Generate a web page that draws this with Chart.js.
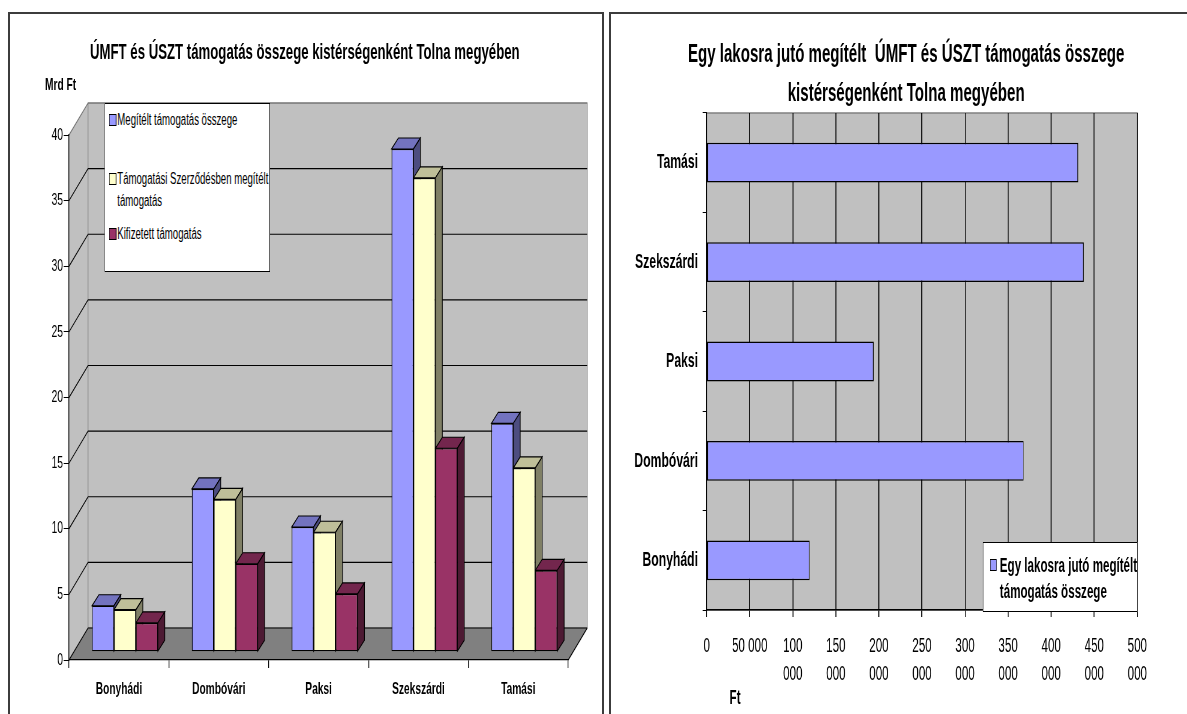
<!DOCTYPE html>
<html lang="hu">
<head>
<meta charset="utf-8">
<title>ÚMFT és ÚSZT támogatás – Tolna megye</title>
<script src="https://cdn.jsdelivr.net/npm/chart.js@4.4.1/dist/chart.umd.min.js"></script>
<style>
  html, body { margin: 0; padding: 0; background: #fff; overflow: hidden; }
  body { width: 1187px; height: 714px; position: relative; font-family: 'Liberation Sans', Arial, sans-serif; color: #000; }
  .frame { position: absolute; border: 0 solid #3c3c3c; }
  /* the original charts are squeezed horizontally, so each one is drawn wide and scaled down */
  .squeeze { position: absolute; top: 0; height: 714px; transform-origin: 0 0; }
  .squeeze canvas { position: absolute; left: 0; top: 0; }
  .txt { position: absolute; white-space: nowrap; }
  .legend { position: absolute; background: #fff; border: 1px solid #000; box-sizing: border-box; }
  .legend .sw { position: absolute; border: 1px solid #000; box-sizing: border-box; }
  .legend .lbl { position: absolute; white-space: nowrap; }
</style>
</head>
<body>
<div class="frame" style="left:8px;top:12px;width:592px;height:720px;border-width:2px 2px 0 2px"></div>
<div class="frame" style="left:609px;top:12px;width:600px;height:720px;border-width:2px 0 0 2px"></div>

<div class="squeeze" style="left:0;width:1007px;transform:scaleX(0.6)">
  <canvas id="leftChart" width="1007" height="714"></canvas>
  <div class="txt" style="left:508px;top:39px;transform:translateX(-50%);font:bold 22px/26px 'Liberation Sans',Arial,sans-serif">ÚMFT és ÚSZT támogatás összege kistérségenként Tolna megyében</div>
  <div class="txt" style="left:75px;top:75px;font:bold 17px/20px 'Liberation Sans',Arial,sans-serif">Mrd Ft</div>
  <div class="legend" id="leftLegend" style="left:174px;top:103px;width:276px;height:169px;font:16px/22px 'Liberation Sans',Arial,sans-serif"></div>
</div>

<div class="squeeze" style="left:604px;width:1005px;transform:scaleX(0.58)">
  <canvas id="rightChart" width="1005" height="714"></canvas>
  <div class="txt" style="left:521px;top:34px;transform:translateX(-50%);text-align:center;font:bold 26px/39px 'Liberation Sans',Arial,sans-serif">Egy lakosra jutó megítélt&nbsp; ÚMFT és ÚSZT támogatás összege<br>kistérségenként Tolna megyében</div>
  <div class="txt" style="left:226px;top:685px;transform:translateX(-50%);font:bold 20px/24px 'Liberation Sans',Arial,sans-serif">Ft</div>
  <div class="legend" id="rightLegend" style="left:653px;top:542px;width:267px;height:70px;font:bold 20px/26.7px 'Liberation Sans',Arial,sans-serif"></div>
</div>

<script>
// ---- adatok ----
const categories = ['Bonyhádi', 'Dombóvári', 'Paksi', 'Szekszárdi', 'Tamási'];

const seriesNames = ['Megítélt támogatás összege', 'Támogatási Szerződésben megítélt támogatás', 'Kifizetett támogatás'];
const seriesColors = ['#9999FF', '#FFFFCC', '#993366'];
const legendLines = [['Megítélt támogatás összege'], ['Támogatási Szerződésben megítélt', 'támogatás'], ['Kifizetett támogatás']];

const megiteltTamogatas = [3.5, 12.4, 9.5, 38.3, 17.4];     // Mrd Ft
const szerzodesTamogatas = [3.2, 11.6, 9.1, 36.1, 14.0];
const kifizetettTamogatas = [2.2, 6.7, 4.4, 15.5, 6.2];
const leftAxisMin = 0, leftAxisMax = 40, leftAxisStep = 5;

const perCapitaName = 'Egy lakosra jutó megítélt támogatás összege';
const perCapitaLines = ['Egy lakosra jutó megítélt', 'támogatás összege'];
const perCapita = [119600, 368000, 193900, 437800, 431400]; // Ft / fő
const rightAxisMin = 0, rightAxisMax = 500000, rightAxisStep = 50000;

Chart.defaults.font.family = "'Liberation Sans', Arial, sans-serif";
Chart.defaults.color = '#000';

// ---- 3D hatás a bal oldali oszlopdiagramhoz ----
const WALL_DX = 31.7, WALL_DY = -32;     // a hátfal eltolása
const BAR_DX = 10, BAR_DY = -8.3;        // az oszlopok a mélység negyedénél állnak
const TOP_DX = 11.5, TOP_DY = -11;       // oszlopok mélysége

function shade(hex, k) {
  const n = parseInt(hex.slice(1), 16);
  const r = Math.round(((n >> 16) & 255) * k);
  const g = Math.round(((n >> 8) & 255) * k);
  const b = Math.round((n & 255) * k);
  return `rgb(${r},${g},${b})`;
}

function poly(ctx, pts, fill, stroke) {
  ctx.beginPath();
  ctx.moveTo(pts[0][0], pts[0][1]);
  for (let i = 1; i < pts.length; i++) ctx.lineTo(pts[i][0], pts[i][1]);
  ctx.closePath();
  if (fill) { ctx.fillStyle = fill; ctx.fill(); }
  if (stroke) { ctx.strokeStyle = stroke; ctx.stroke(); }
}

const walls3d = {
  id: 'walls3d',
  beforeDraw(chart) {
    const { ctx, chartArea: a } = chart;
    const y = chart.scales.y;
    const L = a.left, R = a.right, T = a.top, B = a.bottom;
    ctx.save();
    ctx.lineWidth = 1.2;
    // oldalfal, hátfal, padló
    poly(ctx, [[L, T], [L + WALL_DX, T + WALL_DY], [L + WALL_DX, B + WALL_DY], [L, B]], '#C0C0C0');
    poly(ctx, [[L + WALL_DX, T + WALL_DY], [R + WALL_DX, T + WALL_DY], [R + WALL_DX, B + WALL_DY], [L + WALL_DX, B + WALL_DY]], '#C0C0C0', '#808080');
    poly(ctx, [[L, B], [R, B], [R + WALL_DX, B + WALL_DY], [L + WALL_DX, B + WALL_DY]], '#808080');
    // rácsvonalak a falakon
    y.ticks.forEach(t => {
      const py = y.getPixelForValue(t.value);
      ctx.strokeStyle = t.value === leftAxisMax ? '#6f6f6f' : '#000';
      ctx.beginPath();
      ctx.moveTo(L, py);
      ctx.lineTo(L + WALL_DX, py + WALL_DY);
      ctx.lineTo(R + WALL_DX, py + WALL_DY);
      ctx.stroke();
    });
    ctx.strokeStyle = '#000';
    ctx.beginPath();
    ctx.moveTo(R, B);
    ctx.lineTo(R + WALL_DX, B + WALL_DY);
    ctx.stroke();
    ctx.restore();
  },
  beforeDatasetsDraw(chart) {
    const ctx = chart.ctx;
    ctx.save();
    ctx.translate(BAR_DX, BAR_DY);
    ctx.lineWidth = 1.2;
    const metas = chart.getSortedVisibleDatasetMetas();
    // teteje és oldala balról jobbra, az előlapot a Chart.js rajzolja rá
    for (let i = 0; i < categories.length; i++) {
      metas.forEach(meta => {
        const el = meta.data[i];
        const { x, y, base, width } = el.getProps(['x', 'y', 'base', 'width'], true);
        const col = chart.data.datasets[meta.index].backgroundColor;
        const l = x - width / 2, r = x + width / 2;
        poly(ctx, [[l, y], [l + TOP_DX, y + TOP_DY], [r + TOP_DX, y + TOP_DY], [r, y]], shade(col, 0.75), '#000');
        poly(ctx, [[r, y], [r + TOP_DX, y + TOP_DY], [r + TOP_DX, base + TOP_DY], [r, base]], shade(col, 0.5), '#000');
      });
    }
  },
  afterDatasetsDraw(chart) {
    chart.ctx.restore();
  }
};

const plotBackground = {
  id: 'plotBackground',
  beforeDraw(chart) {
    const { ctx, chartArea: a } = chart;
    ctx.save();
    ctx.fillStyle = '#C0C0C0';
    ctx.fillRect(a.left, a.top, a.right - a.left, a.bottom - a.top);
    ctx.strokeStyle = '#808080';
    ctx.lineWidth = 1.5;
    ctx.strokeRect(a.left, a.top, a.right - a.left, a.bottom - a.top);
    ctx.restore();
  }
};

function formatFt(v) {
  const s = String(v).replace(/\B(?=(\d{3})+(?!\d))/g, ' ');
  return s.length > 6 ? s.split(' ') : s;
}

// ---- bal oldali diagram ----
const leftChart = new Chart(document.getElementById('leftChart'), {
  type: 'bar',
  data: {
    labels: categories,
    datasets: [
      { label: seriesNames[0], data: megiteltTamogatas, backgroundColor: seriesColors[0] },
      { label: seriesNames[1], data: szerzodesTamogatas, backgroundColor: seriesColors[1] },
      { label: seriesNames[2], data: kifizetettTamogatas, backgroundColor: seriesColors[2] }
    ]
  },
  options: {
    responsive: false,
    animation: false,
    events: [],
    layout: { padding: { top: 135, right: 60, bottom: 0, left: 0 } },
    datasets: {
      bar: { categoryPercentage: 0.66, barPercentage: 1, borderWidth: 1.3, borderColor: '#000', borderSkipped: false }
    },
    plugins: { legend: { display: false }, title: { display: false }, tooltip: { enabled: false } },
    scales: {
      x: {
        grid: { drawOnChartArea: false, tickLength: 8, color: '#000', lineWidth: 1.3 },
        border: { color: '#000', width: 1.3 },
        ticks: { font: { size: 17, weight: 'bold' }, padding: 11, maxRotation: 0 },
        afterFit(scale) { scale.height = 54; }
      },
      y: {
        min: leftAxisMin, max: leftAxisMax,
        ticks: { stepSize: leftAxisStep, font: { size: 17 }, padding: 1 },
        grid: { drawOnChartArea: false, tickLength: 9, color: '#000', lineWidth: 1 },
        border: { color: '#000', width: 1.4 },
        afterFit(scale) { scale.width = 115; }
      }
    }
  },
  plugins: [walls3d]
});

// ---- jobb oldali diagram ----
const rightChart = new Chart(document.getElementById('rightChart'), {
  type: 'bar',
  data: {
    labels: categories,
    datasets: [{
      label: perCapitaName, data: perCapita, backgroundColor: seriesColors[0],
      borderColor: '#000', borderWidth: 1.5, borderSkipped: false,
      barPercentage: 0.4, categoryPercentage: 1
    }]
  },
  options: {
    indexAxis: 'y',
    responsive: false,
    animation: false,
    events: [],
    layout: { padding: { top: 113, right: 85.5, bottom: 0, left: 0 } },
    plugins: { legend: { display: false }, title: { display: false }, tooltip: { enabled: false } },
    scales: {
      x: {
        min: rightAxisMin, max: rightAxisMax,
        ticks: { stepSize: rightAxisStep, callback: formatFt, font: { size: 20, lineHeight: 1.4 }, padding: 15, maxRotation: 0, autoSkip: false },
        grid: { color: '#000', lineWidth: 1.6, tickLength: 7 },
        border: { color: '#000', width: 1.6 },
        afterFit(scale) { scale.height = 104; }
      },
      y: {
        reverse: true,
        ticks: { font: { size: 21, weight: 'bold' }, padding: 8 },
        grid: { drawOnChartArea: false, tickLength: 7, color: '#000' },
        border: { color: '#000', width: 1.6 },
        afterFit(scale) { scale.width = 177; }
      }
    }
  },
  plugins: [plotBackground]
});

// ---- jelmagyarázatok ----
function addEntry(box, color, lines, swLeft, swSize, textLeft, centerY, lineH) {
  const sw = document.createElement('div');
  sw.className = 'sw';
  sw.style.cssText = `left:${swLeft}px;top:${centerY - swSize[1] / 2}px;width:${swSize[0]}px;height:${swSize[1]}px;background:${color}`;
  box.appendChild(sw);
  const lbl = document.createElement('div');
  lbl.className = 'lbl';
  lbl.style.cssText = `left:${textLeft}px;top:${centerY - lineH / 2}px`;
  lbl.innerHTML = lines.join('<br>');
  box.appendChild(lbl);
}

const leftLegend = document.getElementById('leftLegend');
const leftEntryY = [16, 74.6, 130];
legendLines.forEach((lines, i) => addEntry(leftLegend, seriesColors[i], lines, 7, [12, 12], 20.5, leftEntryY[i], 22));

const rightLegend = document.getElementById('rightLegend');
addEntry(rightLegend, seriesColors[0], perCapitaLines, 12, [11, 12], 28.5, 22, 26.7);
</script>
</body>
</html>
